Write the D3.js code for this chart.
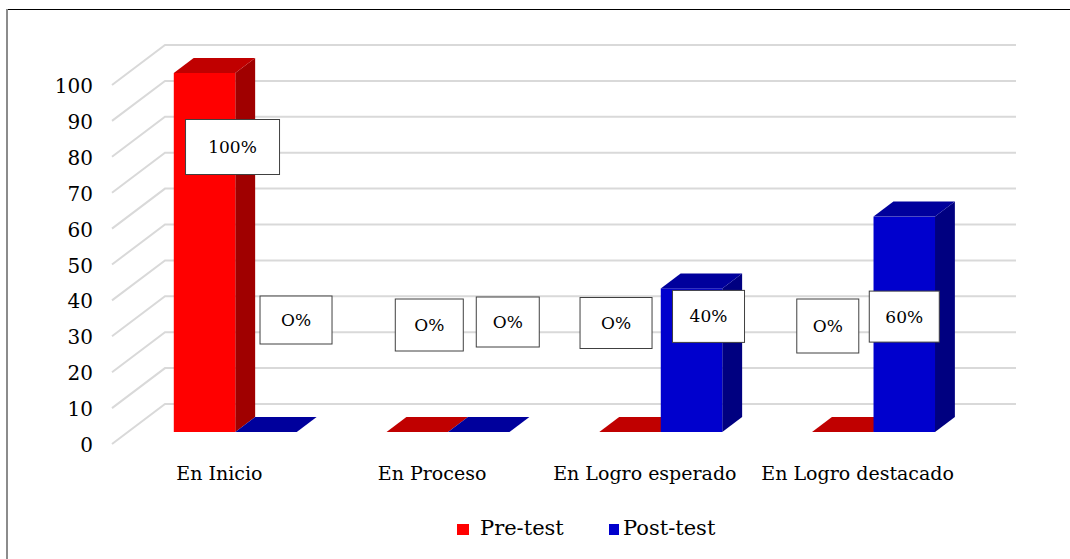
<!DOCTYPE html>
<html>
<head>
<meta charset="utf-8">
<script src="https://cdn.jsdelivr.net/npm/d3@7"></script>
<style>
  html, body { margin: 0; padding: 0; background: #fff; }
  svg { display: block; }
  svg text { font-family: "DejaVu Serif", "Liberation Serif", serif; }
</style>
</head>
<body>
<svg id="chart" width="1070" height="559"></svg>
<script>
// Categories and series
const categories = ["En Inicio", "En Proceso", "En Logro esperado", "En Logro destacado"];
const seriesNames = ["Pre-test", "Post-test"];
const preTest = [100, 0, 0, 0];
const postTest = [0, 0, 40, 60];
const preLabels = ["100%", "O%", "O%", "O%"];
const postLabels = ["O%", "O%", "40%", "60%"];
const yTicks = [0, 10, 20, 30, 40, 50, 60, 70, 80, 90, 100];

// Label box placement relative to each bar's front-top centre: [dx, dy, w, h]
const preLabelBoxes = [[28, 74, 94, 55], [12, -107, 68, 52], [-14, -109, 72, 51], [-15, -106, 62, 54]];
const postLabelBoxes = [[30, -112, 72, 48], [29, -110, 63, 50], [17, 28, 72, 52], [0, 100, 70, 51]];

const faceColors = {
  "Pre-test":  { front: "#ff0000", top: "#c00000", side: "#a00000" },
  "Post-test": { front: "#0000cd", top: "#00009c", side: "#000080" }
};

const svg = d3.select("#chart");

// Frame
svg.append("line").attr("x1", 6).attr("x2", 1070).attr("y1", 9.5).attr("y2", 9.5)
  .attr("stroke", "#000").attr("stroke-width", 1.2);
svg.append("line").attr("x1", 7).attr("x2", 7).attr("y1", 9).attr("y2", 559)
  .attr("stroke", "#8c8c8c").attr("stroke-width", 2);

// 3D projection: depth vector of the plot box
const depth = { dx: 53, dy: -40 };
const barDepth0 = 0.3, barDepth1 = 0.675;

const x0 = d3.scaleBand().domain(categories).range([113, 964])
  .paddingInner(0.422).paddingOuter(0.211);
const x1 = d3.scaleBand().domain(seriesNames).range([0, x0.bandwidth()]);
const y = d3.scaleLinear().domain([0, 100]).range([444, 85]);

// Gridlines: left wall diagonals + back wall horizontals
const grid = svg.append("g");
yTicks.forEach(t => {
  const yf = y(t), yb = y(t) + depth.dy;
  grid.append("path")
    .attr("d", `M112,${yf}L${112 + depth.dx},${yb}L1016,${yb}`)
    .attr("fill", "none").attr("stroke", "#d9d9d9").attr("stroke-width", 2);
});

// Y tick labels
svg.append("g").selectAll("text").data(yTicks).join("text")
  .attr("x", 93).attr("y", d => y(d) + 8)
  .attr("text-anchor", "end").attr("font-size", 20)
  .text(d => d);

// Bars
const seriesData = [
  { name: "Pre-test", values: preTest, labels: preLabels, boxes: preLabelBoxes },
  { name: "Post-test", values: postTest, labels: postLabels, boxes: postLabelBoxes }
];

const bars = svg.append("g");
const barGeom = [];
categories.forEach((cat, ci) => {
  seriesData.forEach(s => {
    const v = s.values[ci];
    const c = faceColors[s.name];
    const fx = x0(cat) + x1(s.name) + barDepth0 * depth.dx;
    const w = x1.bandwidth();
    const yBase = y(0) + barDepth0 * depth.dy;
    const yTop = y(v) + barDepth0 * depth.dy;
    const ddx = (barDepth1 - barDepth0) * depth.dx;
    const ddy = (barDepth1 - barDepth0) * depth.dy;
    const g = bars.append("g");
    if (v > 0) {
      // right side face
      g.append("path")
        .attr("d", `M${fx + w},${yTop}L${fx + w + ddx},${yTop + ddy}L${fx + w + ddx},${yBase + ddy}L${fx + w},${yBase}Z`)
        .attr("fill", c.side);
      // front face
      g.append("rect").attr("x", fx).attr("y", yTop).attr("width", w).attr("height", yBase - yTop)
        .attr("fill", c.front);
    }
    // top face
    g.append("path")
      .attr("d", `M${fx},${yTop}L${fx + ddx},${yTop + ddy}L${fx + w + ddx},${yTop + ddy}L${fx + w},${yTop}Z`)
      .attr("fill", c.top);
    barGeom.push({ cx: fx + w / 2, top: yTop, box: s.boxes[ci], label: s.labels[ci] });
  });
});

// Data labels
const labels = svg.append("g");
barGeom.forEach(b => {
  const [dx, dy, w, h] = b.box;
  const cx = b.cx + dx, cy = b.top + dy;
  labels.append("rect")
    .attr("x", cx - w / 2).attr("y", cy - h / 2).attr("width", w).attr("height", h)
    .attr("fill", "#fff").attr("stroke", "#404040").attr("stroke-width", 1);
  labels.append("text")
    .attr("x", cx).attr("y", cy + 6)
    .attr("text-anchor", "middle").attr("font-size", 17)
    .text(b.label);
});

// Category labels
svg.append("g").selectAll("text").data(categories).join("text")
  .attr("x", d => x0(d) + x0.bandwidth() / 2)
  .attr("y", 480)
  .attr("text-anchor", "middle").attr("font-size", 19)
  .text(d => d);

// Legend
const legend = svg.append("g");
const legendItems = [
  { name: "Pre-test", sx: 457, sw: 12, tx: 480 },
  { name: "Post-test", sx: 609, sw: 10, tx: 623 }
];
legendItems.forEach(it => {
  legend.append("rect").attr("x", it.sx).attr("y", 524).attr("width", it.sw).attr("height", 11)
    .attr("fill", faceColors[it.name].front);
  legend.append("text").attr("x", it.tx).attr("y", 535).attr("font-size", 21).text(it.name);
});
</script>
</body>
</html>
